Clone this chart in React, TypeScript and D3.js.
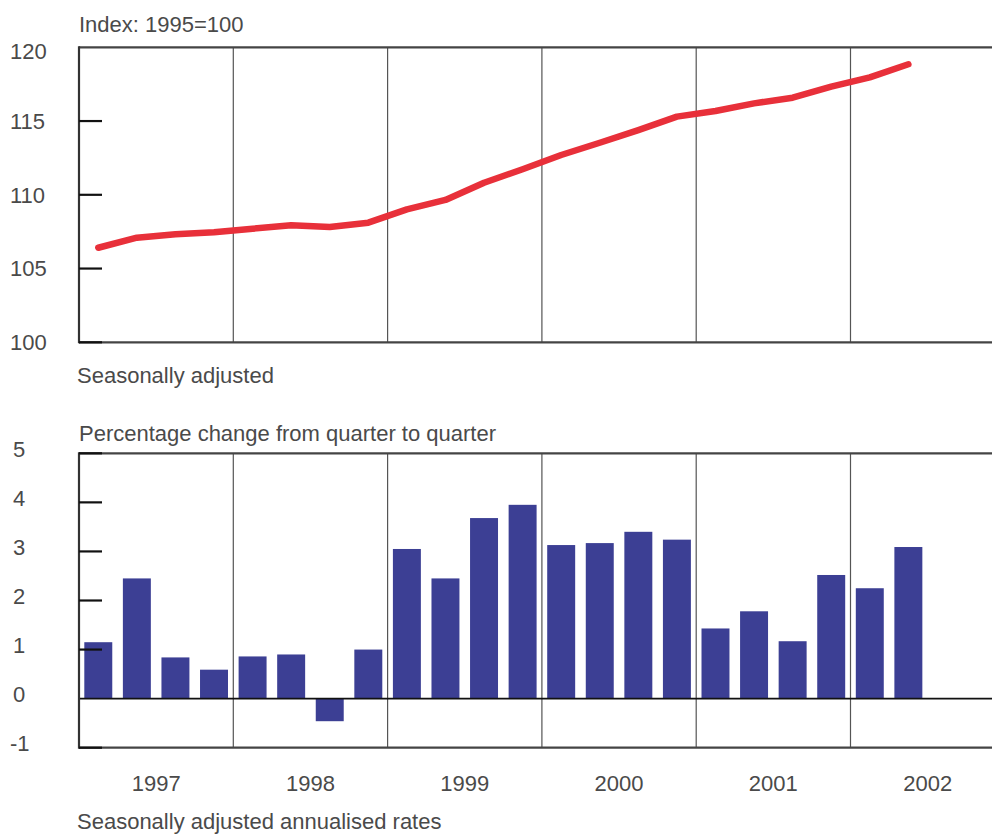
import React from "react";
import * as d3 from "d3";

const quarters = [
  "1997Q1", "1997Q2", "1997Q3", "1997Q4",
  "1998Q1", "1998Q2", "1998Q3", "1998Q4",
  "1999Q1", "1999Q2", "1999Q3", "1999Q4",
  "2000Q1", "2000Q2", "2000Q3", "2000Q4",
  "2001Q1", "2001Q2", "2001Q3", "2001Q4",
  "2002Q1", "2002Q2",
];
const indexValues = [
  106.41, 107.09, 107.32, 107.46, 107.7, 107.93, 107.82, 108.11,
  109.01, 109.65, 110.82, 111.73, 112.7, 113.53, 114.39, 115.3,
  115.68, 116.2, 116.58, 117.33, 117.96, 118.85,
];
const changeValues = [
  1.15, 2.45, 0.84, 0.59, 0.86, 0.9, -0.46, 1.0,
  3.05, 2.45, 3.68, 3.95, 3.13, 3.17, 3.4, 3.24,
  1.43, 1.78, 1.17, 2.52, 2.25, 3.09,
];
const years = [1997, 1998, 1999, 2000, 2001, 2002];
const topTicks = [100, 105, 110, 115, 120];
const bottomTicks = [-1, 0, 1, 2, 3, 4, 5];

const W = 992;
const H = 835;
const LEFT = 79;
const YEAR_W = 154.3;

const FONT = "'Liberation Sans', Arial, sans-serif";
const TEXT = "#4a4a4a";
const FS = 22;

export default function App() {
  const x = d3.scaleLinear().domain([1997, 2003]).range([LEFT, LEFT + 6 * YEAR_W]);
  const qStart = (q: string) => +q.slice(0, 4) + (+q.slice(5) - 1) / 4;
  const qCenter = (q: string) => x(qStart(q) + 0.125);
  const qw = x(1997.25) - x(1997);
  const barW = qw * 0.725;

  const yTop = d3.scaleLinear().domain([100, 120]).range([342.3, 47.3]);
  const yBot = d3.scaleLinear().domain([-1, 5]).range([747.7, 453.3]);

  const line = d3
    .line<number>()
    .x((_, i) => qCenter(quarters[i]))
    .y((d) => yTop(d));

  const boundaries = years.slice(1);

  return (
    <div style={{ position: "absolute", left: 0, top: 0 }}>
      <svg width={W} height={H} style={{ display: "block", fontFamily: FONT }}>
        <rect width={W} height={H} fill="#fff" />
        {/* ---------- Top panel ---------- */}
        <text x={LEFT} y={32} fontSize={FS} fill={TEXT}>Index: 1995=100</text>
        {boundaries.map((yr) => (
          <line key={yr} x1={x(yr)} x2={x(yr)} y1={yTop(120)} y2={yTop(100)} stroke="#555" strokeWidth={1.2} />
        ))}
        <line x1={LEFT} x2={W} y1={yTop(120)} y2={yTop(120)} stroke="#444" strokeWidth={2.2} />
        <line x1={LEFT} x2={W} y1={yTop(100)} y2={yTop(100)} stroke="#444" strokeWidth={2.2} />
        <line x1={LEFT} x2={LEFT} y1={yTop(120) - 1} y2={yTop(100) + 1} stroke="#333" strokeWidth={2.2} />
        {topTicks.map((t) => (
          <g key={t}>
            {t !== 120 && <line x1={LEFT} x2={LEFT + 23} y1={yTop(t)} y2={yTop(t)} stroke="#111" strokeWidth={2.2} />}
            <text x={10} y={yTop(t) + (t === 120 ? 4 : 0)} dy="0.35em" fontSize={FS} fill={TEXT}>{t}</text>
          </g>
        ))}
        <path d={line(indexValues) || ""} fill="none" stroke="#e8303a" strokeWidth={6.5} strokeLinecap="round" strokeLinejoin="round" />
        <text x={77} y={383} fontSize={FS} fill={TEXT}>Seasonally adjusted</text>

        {/* ---------- Bottom panel ---------- */}
        <text x={79} y={440.5} fontSize={FS} fill={TEXT}>Percentage change from quarter to quarter</text>
        {changeValues.map((v, i) => (
          <rect
            key={quarters[i]}
            x={qCenter(quarters[i]) - barW / 2}
            y={yBot(Math.max(0, v))}
            width={barW}
            height={Math.abs(yBot(v) - yBot(0))}
            fill="#3c3f94"
          />
        ))}
        {boundaries.map((yr) => (
          <line key={yr} x1={x(yr)} x2={x(yr)} y1={yBot(5)} y2={yBot(-1)} stroke="#555" strokeWidth={1.2} />
        ))}
        <line x1={LEFT} x2={W} y1={yBot(0)} y2={yBot(0)} stroke="#111" strokeWidth={1.6} />
        <line x1={LEFT} x2={W} y1={yBot(5)} y2={yBot(5)} stroke="#444" strokeWidth={2.2} />
        <line x1={LEFT} x2={W} y1={yBot(-1)} y2={yBot(-1)} stroke="#444" strokeWidth={2.2} />
        <line x1={LEFT} x2={LEFT} y1={yBot(5) - 1} y2={yBot(-1) + 1} stroke="#333" strokeWidth={2.2} />
        {bottomTicks.map((t) => (
          <g key={t}>
            {t !== 0 && <line x1={LEFT} x2={LEFT + 23} y1={yBot(t)} y2={yBot(t)} stroke="#111" strokeWidth={2.2} />}
            <text x={t < 0 ? 10 : 13} y={yBot(t) - 4} dy="0.35em" fontSize={FS} fill={TEXT}>{t}</text>
          </g>
        ))}
        {years.map((yr) => (
          <text key={yr} x={x(yr + 0.5)} y={791} textAnchor="middle" fontSize={FS} fill={TEXT}>{yr}</text>
        ))}
        <text x={77} y={829} fontSize={FS} fill={TEXT}>Seasonally adjusted annualised rates</text>
      </svg>
    </div>
  );
}
